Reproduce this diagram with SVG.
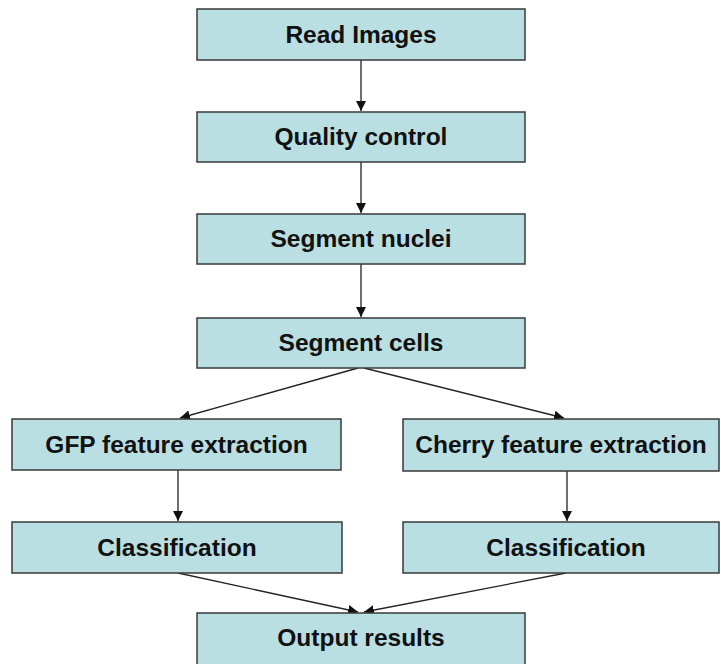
<svg xmlns="http://www.w3.org/2000/svg" width="721" height="664" viewBox="0 0 721 664">
  <style>
    .box { fill: #badfe2; stroke: #3a3a3a; stroke-width: 1.5; }
    .label { font-family: "Liberation Sans", Arial, sans-serif; font-weight: bold; font-size: 24.5px; fill: #111; text-anchor: middle; }
    .edge { stroke: #222; stroke-width: 1.3; fill: none; marker-end: url(#arrow); }
  </style>
  <defs>
    <marker id="arrow" viewBox="0 0 10 10" refX="10" refY="5" markerWidth="10" markerHeight="10" markerUnits="userSpaceOnUse" orient="auto">
      <path d="M0,0 L10,5 L0,10 z" fill="#111"/>
    </marker>
  </defs>
  <rect width="721" height="664" fill="#ffffff"/>

  <g id="connectors">
    <line class="edge" x1="361" y1="60" x2="361" y2="111"/>
    <line class="edge" x1="361" y1="162" x2="361" y2="213"/>
    <line class="edge" x1="361" y1="264" x2="361" y2="317"/>
    <line class="edge" x1="358" y1="368" x2="180" y2="418"/>
    <line class="edge" x1="364" y1="368" x2="564" y2="418"/>
    <line class="edge" x1="178" y1="470" x2="178" y2="521"/>
    <line class="edge" x1="567" y1="471" x2="567" y2="521"/>
    <line class="edge" x1="178" y1="573" x2="358" y2="612"/>
    <line class="edge" x1="566" y1="573" x2="364" y2="612"/>
  </g>

  <g id="read-images">
    <rect class="box" x="197" y="9" width="328" height="51"/>
    <text class="label" x="361" y="43">Read Images</text>
  </g>
  <g id="quality-control">
    <rect class="box" x="197" y="112" width="328" height="50"/>
    <text class="label" x="361" y="145">Quality control</text>
  </g>
  <g id="segment-nuclei">
    <rect class="box" x="197" y="214" width="328" height="50"/>
    <text class="label" x="361" y="247">Segment nuclei</text>
  </g>
  <g id="segment-cells">
    <rect class="box" x="197" y="318" width="328" height="50"/>
    <text class="label" x="361" y="351">Segment cells</text>
  </g>
  <g id="gfp-feature-extraction">
    <rect class="box" x="12" y="419" width="329" height="51"/>
    <text class="label" x="176.5" y="453">GFP feature extraction</text>
  </g>
  <g id="cherry-feature-extraction">
    <rect class="box" x="403" y="419" width="316" height="52"/>
    <text class="label" x="561" y="453">Cherry feature extraction</text>
  </g>
  <g id="gfp-classification">
    <rect class="box" x="12" y="522" width="330" height="51"/>
    <text class="label" x="177" y="556">Classification</text>
  </g>
  <g id="cherry-classification">
    <rect class="box" x="403" y="522" width="316" height="51"/>
    <text class="label" x="566" y="556">Classification</text>
  </g>
  <g id="output-results">
    <rect class="box" x="197" y="613" width="328" height="52"/>
    <text class="label" x="361" y="646">Output results</text>
  </g>
</svg>
